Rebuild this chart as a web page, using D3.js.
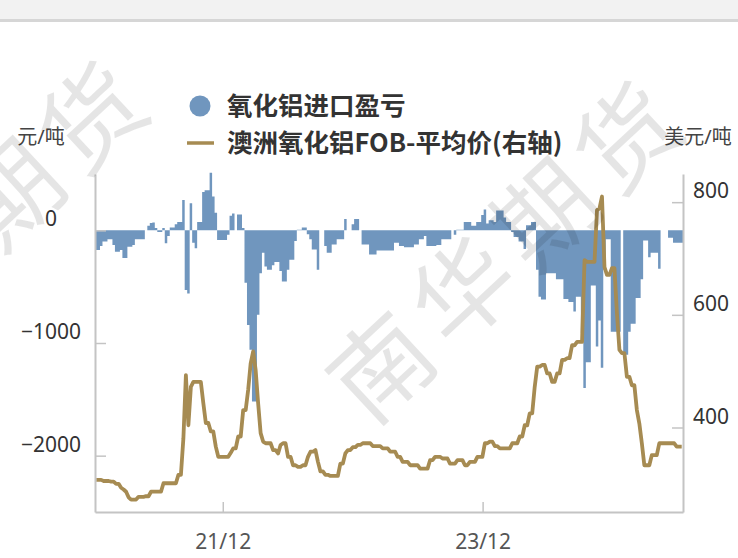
<!DOCTYPE html>
<html>
<head>
<meta charset="utf-8">
<script src="https://cdn.jsdelivr.net/npm/d3@7"></script>
<style>
  body { margin: 0; background: #fff; }
  text { font-family: "Noto Sans", "Noto Sans CJK SC", sans-serif; }
</style>
</head>
<body>
<svg width="738" height="558"></svg>
<script>

// weekly observations, first week starting 2020-12-07
var firstWeek = new Date(2020, 11, 7)

// 氧化铝进口盈亏 (元/吨, left axis)
var importProfit = [
  -175,-175,-140,-100,-100,-80,-80,-130,-190,-190,
  -175,-245,-245,-145,-145,-130,-80,-80,-80,-80,
  0,40,65,70,20,-15,-15,20,-115,-50,
  25,25,55,75,75,270,-530,-560,240,-110,
  -160,75,75,340,355,355,510,300,155,-85,
  -85,-85,-85,-40,130,150,0,140,140,20,
  -465,-840,-1060,-1520,-1520,-750,-380,-200,-320,-350,
  -350,-310,-280,-280,-360,-455,-455,-350,-260,-260,
  -95,5,5,25,25,-35,-80,-170,-170,-350,
  0,0,-140,-200,-200,-125,-125,-80,-80,-80,
  100,0,0,55,100,100,0,-125,-125,-125,
  -215,-215,-215,-180,-180,-180,-180,-180,-180,-180,
  -110,-110,-140,-140,-150,-150,-150,-150,-125,-125,
  -80,-80,-50,-140,-140,-140,-140,-130,-130,-80,
  -80,-80,-80,0,-40,5,5,5,75,75,
  75,40,40,75,75,135,185,60,90,90,
  75,175,175,175,115,75,75,-15,-60,-60,
  -100,-100,-165,45,45,75,75,-350,-590,-615,
  -615,-380,-380,-380,-380,-435,-435,-435,-610,-610,
  -635,-635,-720,-590,-590,-910,-1400,-1170,-1170,-490,
  -490,-1030,-800,-1220,-350,-80,-80,-900,-900,-900,
  -900,0,-1105,-1105,-900,-830,-830,-600,-600,-435,
  -90,-90,-240,-200,-200,-200,-340,0,0,0,
  -65,-65,-110,-110,-110,-110
]

// 澳洲氧化铝FOB-平均价 (美元/吨, right axis)
var fobPrice = [
  307,307,307,305,305,305,304,304,300,300,
  293,290,286,276,272,272,272,277,277,277,
  278,278,286,286,286,286,286,301,301,301,
  301,301,301,316,316,381,493,404,472,481,
  481,481,481,443,408,408,393,393,366,348,
  348,348,348,348,355,363,363,384,384,431,
  431,467,514,535,502,443,390,375,372,372,
  372,360,360,354,369,372,372,348,348,333,
  333,330,330,333,333,348,357,357,360,339,
  322,322,316,316,314,314,314,314,336,336,
  354,360,360,365,365,369,369,372,372,372,
  372,367,367,367,367,363,363,363,357,357,
  357,348,348,339,339,339,333,333,333,333,
  327,327,327,327,342,342,348,348,348,345,
  345,345,336,336,336,342,342,342,333,333,
  339,339,339,348,348,348,372,372,375,375,
  367,367,363,363,363,363,363,372,372,372,
  384,384,404,404,425,425,472,508,508,511,
  511,496,496,481,481,496,496,520,520,523,
  523,546,546,552,552,552,697,694,694,694,
  694,786,789,810,685,671,671,683,683,603,
  538,532,532,490,490,475,475,431,407,372,
  333,333,333,351,351,351,372,372,372,372,
  372,372,372,366,366,366
]

var leftTicks = [-2000, -1000, 0]
var rightTicks = [400, 600, 800]
var xTicks = [new Date(2021, 11, 1), new Date(2023, 11, 1)]

var legendLabels = ["氧化铝进口盈亏", "澳洲氧化铝FOB-平均价(右轴)"]

var blue = "#7096be"
var gold = "#a68b52"
var axisGray = "#c4c4c4"

var svg = d3.select("svg")

var weeks = importProfit.map(function(d, i){ return d3.timeDay.offset(firstWeek, 7*i); })
var lastDay = d3.timeDay.offset(weeks[weeks.length - 1], 7)

var x = d3.scaleTime().domain([firstWeek, lastDay]).range([95, 683])
var yL = d3.scaleLinear().domain([-2500, 500]).range([512, 174])
var yR = d3.scaleLinear().domain([250, 850]).range([512, 174])

// top strip
svg.append("rect").attr("x", 0).attr("y", 0).attr("width", 738).attr("height", 19).attr("fill", "#f2f2f2")
svg.append("rect").attr("x", 0).attr("y", 19).attr("width", 738).attr("height", 3).attr("fill", "#d6d6d6")

// bars: each weekly value holds until the next week, drawn as one stepped area

var barPoints = importProfit.map(function(d, i){ return {date: weeks[i], v: d}; })
barPoints.push({date: lastDay, v: importProfit[importProfit.length - 1]})

var barArea = d3.area()
  .curve(d3.curveStepAfter)
  .x(function(d){ return x(d.date); })
  .y0(yL(0))
  .y1(function(d){ return yL(d.v); })

svg.append("path").datum(barPoints)
  .attr("class", "bars")
  .attr("d", barArea)
  .attr("fill", blue)

// line

var line = d3.line()
  .x(function(d, i){ return x(weeks[i]) + 1.2; })
  .y(function(d){ return yR(d); })

svg.append("path").datum(fobPrice)
  .attr("d", line)
  .attr("fill", "none")
  .attr("stroke", gold)
  .attr("stroke-width", 3.8)
  .attr("stroke-linejoin", "round")

// axes

function styleAxis(g) {
  g.select(".domain").attr("stroke", axisGray).attr("stroke-width", 2)
  g.selectAll(".tick line").attr("stroke", axisGray).attr("stroke-width", 1.5)
  g.selectAll(".tick text").attr("fill", "#333").style("font-size", "21px").style("font-family", "Noto Sans")
}

var gL = svg.append("g").attr("transform", "translate(95,0)")
  .call(d3.axisRight(yL).tickValues(leftTicks).tickSize(11).tickSizeOuter(0).tickFormat(function(d){ return d < 0 ? "\u2212" + Math.abs(d) : d; }))
styleAxis(gL)
gL.selectAll(".tick text").attr("x", -44).attr("dy", "-0.22em").attr("text-anchor", "middle")

var gR = svg.append("g").attr("transform", "translate(683,0)")
  .call(d3.axisLeft(yR).tickValues(rightTicks).tickSize(11).tickSizeOuter(0))
styleAxis(gR)
gR.selectAll(".tick text").attr("x", 10).attr("dy", "-0.2em").attr("text-anchor", "start")

var gX = svg.append("g").attr("transform", "translate(0,512)")
  .call(d3.axisTop(x).tickValues(xTicks).tickSize(10).tickSizeOuter(0).tickFormat(d3.timeFormat("%y/%m")))
styleAxis(gX)
gX.selectAll(".tick text").attr("y", 30).attr("dy", "0.35em").attr("fill", "#555")

// axis titles
svg.append("text").attr("x", 41).attr("y", 137).attr("dy", "0.35em").attr("text-anchor", "middle")
  .style("font-size", "20px").attr("fill", "#444").text("元/吨")
svg.append("text").attr("x", 698).attr("y", 137).attr("dy", "0.35em").attr("text-anchor", "middle")
  .style("font-size", "20px").attr("fill", "#444").text("美元/吨")

// legend
svg.append("circle").attr("cx", 200).attr("cy", 106).attr("r", 10.5).attr("fill", blue)
svg.append("line").attr("x1", 187).attr("x2", 214).attr("y1", 143).attr("y2", 143)
  .attr("stroke", gold).attr("stroke-width", 3.5)
svg.selectAll(".legend").data(legendLabels).enter().append("text")
  .attr("class", "legend")
  .attr("x", 227)
  .attr("y", function(d, i){ return 106 + i*37; })
  .attr("dy", "0.36em")
  .style("font-size", "25.5px")
  .style("font-weight", "bold")
  .style("font-family", "Noto Sans CJK SC")
  .attr("fill", "#333")
  .text(function(d){ return d; })

// watermark
var marks = [{cx: 510, cy: 250}, {cx: -25, cy: 230}]
svg.selectAll(".wm").data(marks).enter().append("text")
  .attr("class", "wm")
  .attr("transform", function(d){ return "translate(" + d.cx + "," + d.cy + ") rotate(-43)"; })
  .attr("text-anchor", "middle")
  .attr("dy", "0.35em")
  .style("font-size", "100px")
  .style("font-family", "Noto Sans CJK SC")
  .style("letter-spacing", "12px")
  .attr("fill", "#000")
  .attr("fill-opacity", 0.1)
  .text("南华期货")

</script>
</body>
</html>
